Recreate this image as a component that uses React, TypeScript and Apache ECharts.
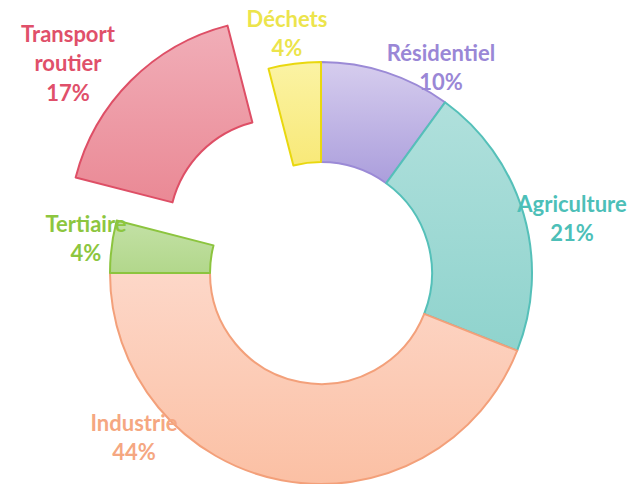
import React, { useEffect, useRef } from "react";
import * as echarts from "echarts";

const categories = ["Résidentiel", "Agriculture", "Industrie", "Tertiaire", "Transport routier", "Déchets"];
const values = [10, 21, 44, 4, 17, 4];
const exploded = [false, false, false, false, true, false];
const fillTop = ["#d6cdee", "#b0e0dc", "#fdd7c8", "#c3e1a6", "#f1aeb8", "#fbf3a4"];
const fillBottom = ["#ab9edc", "#8fd3cd", "#fbc0a4", "#b2d78b", "#ea8995", "#f8e978"];
const strokes = ["#9b8ad6", "#55c0b9", "#f3a07a", "#8cc43e", "#de4f66", "#e9d80f"];
const labelColors = ["#9a87d6", "#4dbfb8", "#f5a781", "#8dc63f", "#e0506a", "#ece44c"];
// centre of each label's first line
const labelPos = [
  [441, 52],
  [572, 203],
  [134, 422],
  [86, 223],
  [68, 33],
  [287, 18],
];

const CENTER = [321, 273];
const EXPLODE_SHIFT = [-41, -43];
const LINE_H = 29.5;

export default function App() {
  const ref = useRef<HTMLDivElement>(null);
  useEffect(() => {
    if (!ref.current) return;
    const chart = echarts.init(ref.current, null, { renderer: "svg" });
    const makeData = (showExploded: boolean) =>
      categories.map((name, i) => {
        const visible = exploded[i] === showExploded;
        return {
          name,
          value: values[i],
          itemStyle: visible
            ? {
                color: new echarts.graphic.LinearGradient(0, 0, 0, 1, [
                  { offset: 0, color: fillTop[i] },
                  { offset: 1, color: fillBottom[i] },
                ]),
                borderColor: strokes[i],
                borderWidth: 2,
              }
            : { color: "rgba(0,0,0,0)", borderWidth: 0 },
          label: { show: visible, color: labelColors[i] },
        };
      });
    const baseSeries = (center: number[], showExploded: boolean) => ({
      type: "pie",
      center,
      radius: [111, 211],
      startAngle: 90,
      clockwise: true,
      avoidLabelOverlap: false,
      silent: true,
      data: makeData(showExploded),
      label: {
        position: "outside",
        fontFamily: "Lato, 'Open Sans', sans-serif",
        fontWeight: "bold",
        fontSize: 22,
        lineHeight: LINE_H,
        align: "center",
        formatter: (p: any) => p.name.replace(" ", "\n") + "\n" + p.value + "%",
      },
      labelLine: { show: false },
      labelLayout: (params: any) => ({
        x: labelPos[params.dataIndex][0],
        y: labelPos[params.dataIndex][1] - LINE_H / 2,
        align: "center",
        verticalAlign: "top",
      }),
      emphasis: { disabled: true },
    });
    chart.setOption({
      animation: false,
      backgroundColor: "#ffffff",
      series: [
        baseSeries(CENTER, false),
        baseSeries([CENTER[0] + EXPLODE_SHIFT[0], CENTER[1] + EXPLODE_SHIFT[1]], true),
      ],
    });
    return () => chart.dispose();
  }, []);
  return (
    <div
      ref={ref}
      style={{ position: "fixed", left: 0, top: 0, width: 637, height: 484 }}
    />
  );
}
